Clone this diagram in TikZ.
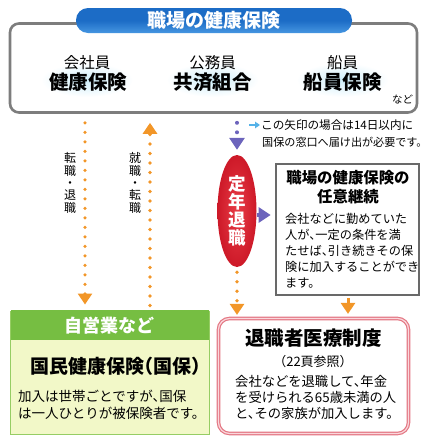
\documentclass[tikz,border=0pt]{standalone}
\usepackage{fontspec}
\setmainfont[RawFeature=+halt]{Noto Sans CJK JP}
\usetikzlibrary{arrows.meta,shapes.geometric,calc}
\definecolor{blueH}{RGB}{28,108,198}
\definecolor{blueL}{RGB}{70,150,225}
\definecolor{grayB}{RGB}{125,125,125}
\definecolor{grayD}{RGB}{105,105,105}
\definecolor{orangeA}{RGB}{242,150,40}
\definecolor{purpleA}{RGB}{108,100,188}
\definecolor{redE}{RGB}{205,25,40}
\definecolor{redL}{RGB}{232,60,70}
\definecolor{greenH}{RGB}{118,190,66}
\definecolor{greenL}{RGB}{242,248,200}
\definecolor{greenB}{RGB}{150,205,100}
\definecolor{pinkB}{RGB}{228,120,132}
\definecolor{pinkL}{RGB}{250,215,220}
\definecolor{skyA}{RGB}{85,178,232}
\definecolor{glow}{RGB}{205,238,250}
\newcommand{\fs}[2]{\fontsize{#1}{#2}\selectfont}
\tikzset{
  txt/.style={inner sep=0pt, text=black},
  dotline/.style={line width=3.6pt, dash pattern=on 0pt off 9.5pt, line cap=round},
  otip/.style={-{Triangle[width=14pt,length=11pt]}},
  oarrow/.style={orangeA, dotline, otip},
  parrow/.style={purpleA, line width=4pt, -{Triangle[width=15pt,length=12pt]}},
}
\begin{document}
\begin{tikzpicture}[x=1pt,y=-1pt]
\useasboundingbox (0,0) rectangle (428,440);
% top box
\node[draw=grayB, line width=2.6pt, rounded corners=9pt, minimum width=407pt, minimum height=89pt, inner sep=0pt] (top) at (213.5,68) {};
\shade[inner color=glow, outer color=white] (87,80) ellipse (46 and 17);
\shade[inner color=glow, outer color=white] (212.5,80) ellipse (46 and 17);
\shade[inner color=glow, outer color=white] (342.5,80) ellipse (46 and 17);
\node[top color=blueH, bottom color=blueL, middle color=blueH, rounded corners=12pt, minimum width=276pt, minimum height=25pt, inner sep=0pt, text=white, font=\fs{19}{19}\bfseries] (title) at (214,20.5) {職場の健康保険};
\node[txt, font=\fs{15.5}{15.5}] (k1) at (87,63) {会社員};
\node[txt, font=\fs{19.5}{19.5}\bfseries] (k2) at (88,82.5) {健康保険};
\node[txt, font=\fs{15.5}{15.5}] (m1) at (212.5,63) {公務員};
\node[txt, font=\fs{19.5}{19.5}\bfseries] (m2) at (212.5,82.5) {共済組合};
\node[txt, font=\fs{15.5}{15.5}] (s1) at (342.5,63) {船員};
\node[txt, font=\fs{19.5}{19.5}\bfseries] (s2) at (342.5,82.5) {船員保険};
\node[txt, font=\fs{10.5}{10.5}] (nado) at (402.5,99) {など};
% vertical labels
\node[txt, align=center, font=\fs{12}{12.3}] (lab1) at (70,183) {転\\職\\・\\退\\職};
\node[txt, align=center, font=\fs{12}{12.3}] (lab2) at (135,183) {就\\職\\・\\転\\職};
% note
\coordinate (n1) at (249,125);
\coordinate (n2) at (260,125);
\draw[skyA, line width=2pt, -{Triangle[width=6.5pt,length=5pt]}] (n1) -- (n2);
\node[txt, anchor=west, font=\fs{11.6}{11.6}] (note1) at (261,125) {この矢印の場合は14日以内に};
\node[txt, anchor=west, font=\fs{11.1}{11.1}] (note2) at (262,142) {国保の窓口へ届け出が必要です。};
% ellipse
\node[ellipse, minimum width=39pt, minimum height=112pt, inner sep=0pt, inner color=redL, outer color=redE, text=white, align=center, font=\fs{17.5}{18}\bfseries] (teinen) at (237,211) {定\\年\\退\\職};
% nini box
\node[draw=grayD, line width=2.6pt, fill=white, minimum width=143pt, minimum height=131pt, inner sep=0pt] (nini) at (347.5,229.5) {};
\node[txt, align=center, font=\fs{15.4}{19}\bfseries] (ninit) at (348,187.5) {職場の健康保険の\\任意継続};
\node[txt, anchor=west, align=left, font=\fs{12.2}{16}] (ninib) at (285,251) {会社などに勤めていた\\人が、一定の条件を満\\たせば、引き続きその保\\険に加入することができ\\ます。};
% green box
\node[draw=greenB, line width=1pt, fill=greenL, minimum width=199pt, minimum height=123pt, inner sep=0pt] (kokuho) at (109.5,372.5) {};
\node[fill=greenH, minimum width=198pt, minimum height=30pt, inner sep=0pt, anchor=north, text=white, font=\fs{18}{18}\bfseries] (jiei) at ([yshift=0.5pt]kokuho.north) {自営業など};
\node[txt, font=\fs{19}{19}\bfseries] (kokut) at (116,366) {国民健康保険（国保）};
\node[txt, anchor=west, align=left, font=\fs{13.5}{17}] (kokub) at (18,404.5) {加入は世帯ごとですが、国保\\は一人ひとりが被保険者です。};
% red box
\node[draw=pinkB, double=pinkL, double distance=1.2pt, line width=1.2pt, fill=white, rounded corners=11pt, minimum width=190pt, minimum height=115pt, inner sep=0pt] (taishoku) at (313.5,376) {};
\node[txt, font=\fs{19.5}{19.5}\bfseries] (tait) at (313.5,338.5) {退職者医療制度};
\node[txt, font=\fs{13}{13}] (taip) at (313,362) {（22頁参照）};
\node[txt, anchor=west, align=left, font=\fs{13.3}{15.7}] (taib) at (235,397.3) {会社などを退職して、年金\\を受けられる65歳未満の人\\と、その家族が加入します。};
% connectors
\coordinate (x85) at (85,0);
\coordinate (x150) at (150,0);
\coordinate (x348) at (348,0);
\coordinate (y215) at (0,215);
\draw[oarrow, shorten <=9pt, shorten >=6pt] (top.south -| x85) -- (kokuho.north -| x85);
\draw[orangeA, dotline, -{Triangle[width=14pt,length=11pt]}, shorten <=5pt, shorten >=9pt] (kokuho.north -| x150) -- (top.south -| x150);
\draw[purpleA, dotline, line width=4pt, -{Triangle[width=15pt,length=12pt]}, shorten <=9pt, shorten >=5pt] (top.south -| teinen) -- (teinen.north);
\draw[parrow, shorten >=4pt] (teinen.east |- y215) -- (nini.west |- y215);
\draw[oarrow, shorten <=5pt, shorten >=3pt] (teinen.south) -- (taishoku.north -| teinen);
\draw[orangeA, line width=3pt, otip, shorten <=1.5pt, shorten >=4pt] (nini.south -| x348) -- (taishoku.north -| x348);
\end{tikzpicture}
\end{document}
